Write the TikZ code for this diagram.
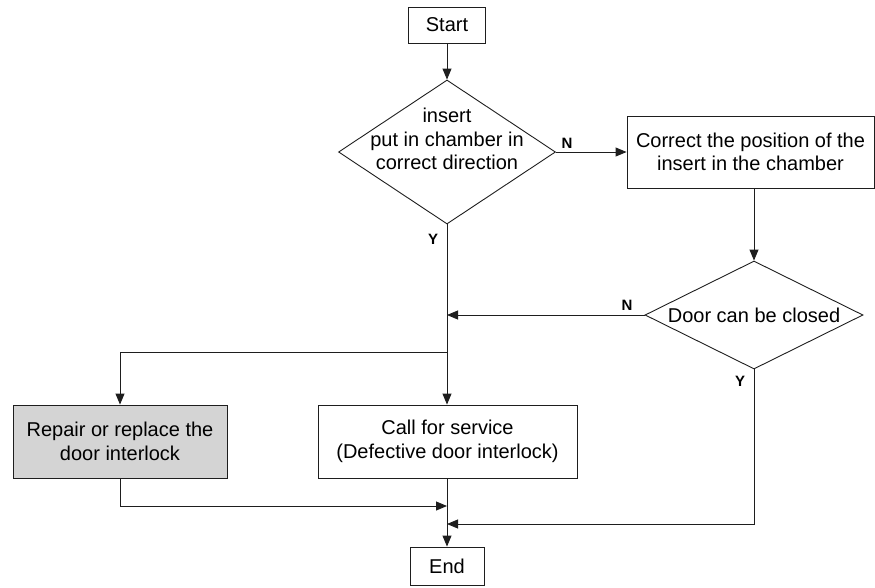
\documentclass[tikz,border=0pt]{standalone}
\usepackage{fontspec}
\setmainfont{Liberation Sans}
\usetikzlibrary{shapes.geometric,arrows.meta}
\definecolor{repairgray}{RGB}{212,212,212}
\definecolor{inkc}{RGB}{30,30,30}
\begin{document}
\begin{tikzpicture}[x=1pt,y=-1pt,
  box/.style={draw=inkc, line width=0.9pt, inner sep=0pt, align=center, font=\fontsize{20}{23.5}\selectfont},
  dia/.style={draw=inkc, diamond, line width=0.9pt, inner sep=0pt},
  txt/.style={align=center, font=\fontsize{20}{23.5}\selectfont, inner sep=0pt},
  lab/.style={font=\bfseries\fontsize{15}{17}\selectfont, inner sep=0pt},
  conn/.style={draw=inkc, line width=0.9pt},
  arr/.style={conn, -{Triangle[length=11pt,width=9pt]}}]
\useasboundingbox (0,0) rectangle (875,587);

\node[box, minimum width=77pt, minimum height=36pt] (start) at (447,25) {Start};
\node[dia, minimum width=217pt, minimum height=144pt] (d1) at (447,152) {};
\node[txt] (d1t) at (447,139) {insert\\put in chamber in\\correct direction};
\node[box, minimum width=247pt, minimum height=72pt] (fix) at (750.5,152) {Correct the position of the\\insert in the chamber};
\node[dia, minimum width=218pt, minimum height=108pt] (d2) at (754,315) {};
\node[txt] (d2t) at (d2.center) {Door can be closed};
\node[box, fill=repairgray, minimum width=214pt, minimum height=73pt] (repair) at (120,441.5) {Repair or replace the\\door interlock};
\node[box, minimum width=259pt, minimum height=73pt] (call) at (447.5,441.5) {Call for service\\(Defective door interlock)};
\node[box, minimum width=74pt, minimum height=38pt] (end) at (447,566) {End};

\coordinate (m1) at (447,315);
\coordinate (j1) at (447,352);
\coordinate (m2) at (447,506);
\coordinate (m3) at (447,524);

\node[lab] (n1) at (567,143) {N};
\node[lab] (y1) at (433,239) {Y};
\node[lab] (n2) at (627,305) {N};
\node[lab] (y2) at (740,381) {Y};

\draw[arr] (start.south) -- (d1.north);
\draw[arr] (d1.east) -- (d1.east -| fix.west);
\draw[arr] (fix.south -| d2.north) -- (d2.north);
\draw[arr] (d2.west) -- (m1);
\draw[arr] (d1.south) -- (call.north -| d1.south);
\draw[arr] (j1) -| (repair.north);
\draw[arr] (repair.south) |- (m2);
\draw[arr] (call.south -| end.north) -- (end.north);
\draw[arr] (d2.south) |- (m3);
\end{tikzpicture}
\end{document}
